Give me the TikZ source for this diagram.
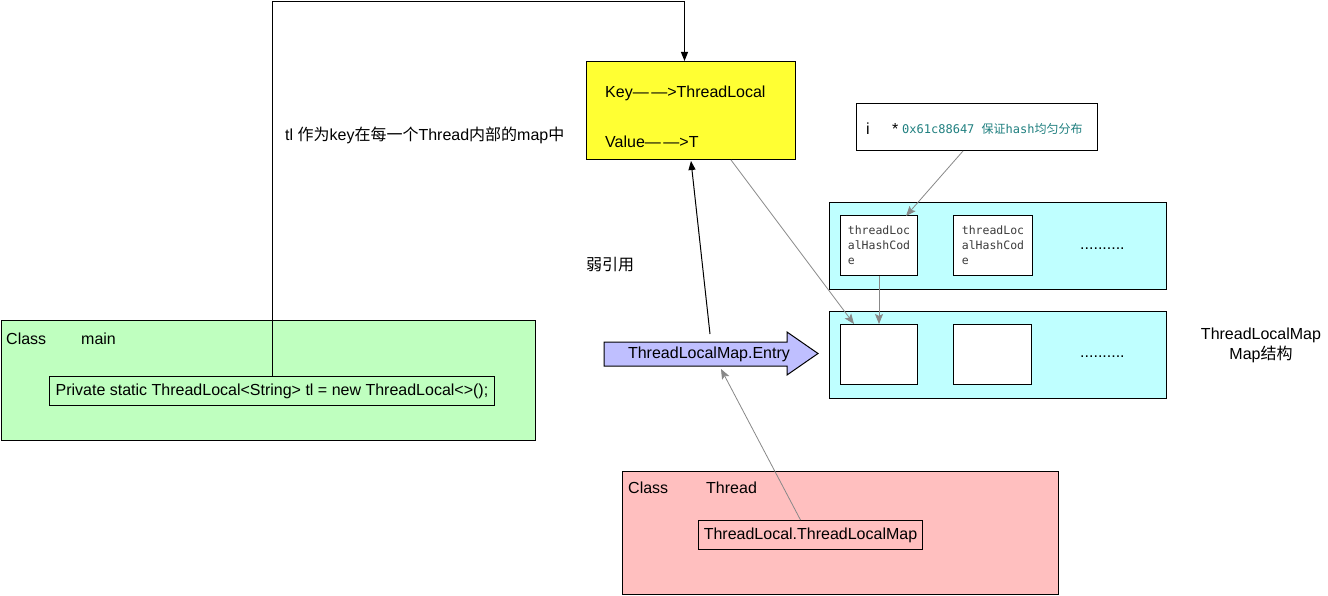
\documentclass[tikz,border=0pt]{standalone}
\usepackage{fontspec}
\setmainfont{Liberation Sans}
\setmonofont{DejaVu Sans Mono}
\newfontfamily\cjk{Noto Sans CJK SC}
\usetikzlibrary{arrows.meta}
\definecolor{cgreen}{RGB}{191,255,191}
\definecolor{cyellow}{RGB}{255,255,51}
\definecolor{ccyan}{RGB}{191,255,255}
\definecolor{cpink}{RGB}{255,191,191}
\definecolor{clav}{RGB}{191,191,255}
\definecolor{cteal}{RGB}{32,128,128}
\definecolor{cline}{RGB}{136,136,136}
\definecolor{ccode}{RGB}{60,60,60}
\newcommand{\ddash}{—\kern2.5pt—}
\tikzset{
  box/.style={draw=black, line width=1pt, inner sep=0pt, anchor=north west},
  lbl/.style={anchor=base west, inner sep=0pt},
  barr/.style={draw=black, line width=1pt, -{Triangle[length=9pt,width=7pt]}},
  garr/.style={draw=cline, line width=0.8pt, -{Stealth[length=10pt,width=8pt,inset=2pt]}, color=cline},
  codecell/.style={box, fill=white, align=left, font=\fontsize{11.5}{15}\ttfamily, text=ccode},
}
\begin{document}
\begin{tikzpicture}[x=1pt, y=-1pt, font=\fontsize{16}{19}\selectfont]
\useasboundingbox (0,0) rectangle (1328,596);

% Class main
\node[box, fill=cgreen, minimum width=534pt, minimum height=120pt] (main) at (1,320) {};
\node[lbl] (mainc) at (6,344) {Class};
\node[lbl] (mainn) at (81,344) {main};
\node[box, fill=cgreen, minimum width=445pt, minimum height=29pt] (decl) at (49,376)
  {Private static ThreadLocal<String> tl = new ThreadLocal<>();};

% yellow entry
\node[box, fill=cyellow, minimum width=209pt, minimum height=98pt] (yel) at (586,61) {};
\node[lbl] (keyt) at (605,98) {Key\ddash>ThreadLocal};
\node[lbl] (valt) at (605,148) {Value\ddash>T};

% labels
\node[lbl] (tllbl) at (285,141) {tl {\cjk 作为}key{\cjk 在每一个}Thread{\cjk 内部的}map{\cjk 中}};
\node[lbl] (weak) at (586,270) {\cjk 弱引用};

% Entry arrow
\draw[line width=1pt, fill=clav] (604,342) -- (787,342) -- (787,332) -- (818,353.5)
  -- (787,375) -- (787,366) -- (604,366) -- cycle;
\node[inner sep=0pt] (entry) at (709,354) {ThreadLocalMap.Entry};
\coordinate (entrytop) at (710,334);
\coordinate (entrybot) at (721,369);

% info box
\node[box, fill=white, minimum width=241pt, minimum height=47pt] (info) at (856,103) {};
\node[lbl] (infoi) at (866,135) {i};
\node[lbl] (infos) at (892,135) {*};
\node[lbl, text=cteal, font=\fontsize{12}{14}\ttfamily] (infot) at (902,134)
  {0x61c88647 {\cjk 保证}hash{\cjk 均匀分布}};

% upper cyan
\node[box, fill=ccyan, minimum width=337pt, minimum height=87pt] (upper) at (829,202) {};
\node[codecell, minimum width=77pt, minimum height=60pt] (uc1) at (840,215) {threadLoc\\alHashCod\\e};
\node[codecell, minimum width=79pt, minimum height=60pt] (uc2) at (953,215) {threadLoc\\alHashCod\\e};
\node[lbl] (udots) at (1080,249) {..........};

% lower cyan
\node[box, fill=ccyan, minimum width=337pt, minimum height=87pt] (lower) at (829,311) {};
\node[box, fill=white, minimum width=77pt, minimum height=60pt] (lc1) at (840,324) {};
\node[box, fill=white, minimum width=78pt, minimum height=60pt] (lc2) at (953,324) {};
\node[lbl] (ldots) at (1080,357) {..........};

\node[align=center, inner sep=0pt, font=\fontsize{16}{20}\selectfont] (maplbl) at (1261,345)
  {ThreadLocalMap\\Map{\cjk 结构}};

% Class Thread
\node[box, fill=cpink, minimum width=436pt, minimum height=123pt] (thr) at (622,471) {};
\node[lbl] (thrc) at (628,493) {Class};
\node[lbl] (thrn) at (706,493) {Thread};
\node[box, fill=cpink, minimum width=224pt, minimum height=29pt] (tlm) at (698,520) {ThreadLocal.ThreadLocalMap};

% connectors
\draw[barr] (decl.north) -- ++(0,-374) -| ([xshift=-6.5pt]yel.north);
\draw[barr] (entrytop) -- ([yshift=-1pt]yel.south);
\draw[garr] ([xshift=40pt]yel.south) -- ([xshift=-25pt]lc1.north);
\draw[garr] ([xshift=-14pt]info.south) -- ([xshift=27pt,yshift=-1pt]uc1.north);
\draw[garr] (uc1.south) -- (lc1.north);
\draw[garr] ([xshift=-10pt]tlm.north) -- (entrybot);
\end{tikzpicture}
\end{document}
